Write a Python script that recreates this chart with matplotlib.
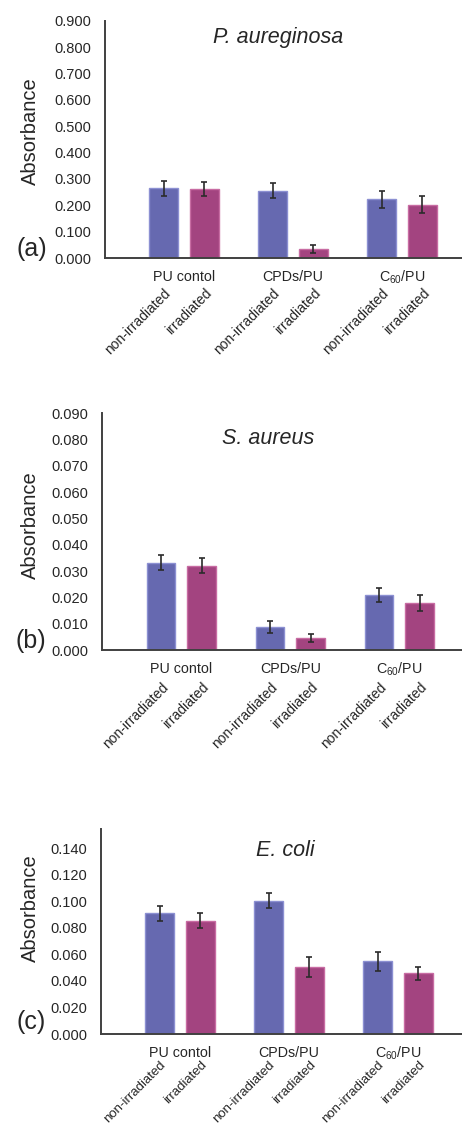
# Absorbancia de biopelícula: tres paneles (a), (b), (c)
import matplotlib
matplotlib.use('Agg')
import matplotlib.pyplot as plt
import matplotlib.transforms as mtransforms
import numpy as np

plt.rcParams['font.family'] = ['Liberation Sans', 'DejaVu Sans']
plt.rcParams['mathtext.default'] = 'regular'

# Datos
grupos = ['PU contol', 'CPDs/PU', 'C$_{60}$/PU']
condiciones = ['non-irradiated', 'irradiated']

pa_non = [0.264, 0.255, 0.222]
pa_irr = [0.263, 0.033, 0.202]
pa_non_err = [0.027, 0.028, 0.032]
pa_irr_err = [0.026, 0.015, 0.032]

sa_non = [0.0332, 0.0087, 0.0209]
sa_irr = [0.0321, 0.0046, 0.0179]
sa_non_err = [0.0028, 0.0023, 0.0027]
sa_irr_err = [0.0027, 0.0014, 0.0030]

ec_non = [0.0910, 0.1006, 0.0547]
ec_irr = [0.0855, 0.0507, 0.0459]
ec_non_err = [0.0054, 0.0057, 0.0073]
ec_irr_err = [0.0054, 0.0074, 0.0048]

W, H = 462, 1130
fig = plt.figure(figsize=(W / 100, H / 100), dpi=100)

azul, azul_borde = '#6669b0', '#8c90d2'
mag, mag_borde = '#a34480', '#c86ca3'
texto = '#262626'
eje = '#404040'

paneles = [
    dict(px=(105, 20.7, 258), non=pa_non, irr=pa_irr, enon=pa_non_err, eirr=pa_irr_err,
         ymax=0.9, paso=0.1, titulo='P. aureginosa', tpos=(278, 37), letra='(a)',
         lpos=(31.5, 249), ylab=131.5, pad=20, fs=10),
    dict(px=(102.3, 413.3, 650), non=sa_non, irr=sa_irr, enon=sa_non_err, eirr=sa_irr_err,
         ymax=0.09, paso=0.01, titulo='S. aureus', tpos=(268, 438), letra='(b)',
         lpos=(31, 641), ylab=525, pad=21.5, fs=10),
    dict(px=(101, 829.3, 1034), non=ec_non, irr=ec_irr, enon=ec_non_err, eirr=ec_irr_err,
         ymax=0.1544, paso=0.02, titulo='E. coli', tpos=(285, 851), letra='(c)',
         lpos=(31, 1022.5), ylab=908, pad=18, fs=9.5),
]

espacio = 109.0  # px entre grupos
ancho = 0.262
desp = 0.186
x = np.arange(len(grupos))

for p in paneles:
    l, t, b = p['px']
    ax = fig.add_axes([l / W, 1 - b / H, (W - l) / W, (b - t) / H])
    ax.bar(x - desp, p['non'], ancho, yerr=p['enon'], color=azul, edgecolor=azul_borde,
           linewidth=1, error_kw=dict(ecolor='#2b2b2b', elinewidth=1.2, capsize=2.5, capthick=1.2))
    ax.bar(x + desp, p['irr'], ancho, yerr=p['eirr'], color=mag, edgecolor=mag_borde,
           linewidth=1, error_kw=dict(ecolor='#2b2b2b', elinewidth=1.2, capsize=2.5, capthick=1.2))

    izq = -0.725
    ax.set_xlim(izq, izq + (W - l) / espacio)
    ax.set_ylim(0, p['ymax'])
    ticks = np.arange(0, p['ymax'] + 1e-9, p['paso'])
    ax.set_yticks(ticks)
    ax.set_yticklabels([f'{v:.3f}' for v in ticks])

    pos = np.concatenate([[xi - desp, xi + desp] for xi in x])
    ax.set_xticks(pos)
    ax.set_xticklabels(condiciones * len(grupos), rotation=45, ha='right', va='top',
                       rotation_mode='anchor', fontsize=p['fs'], color=texto)
    ax.tick_params(axis='x', length=0, pad=p['pad'])
    ax.tick_params(axis='y', length=0, pad=10, labelsize=10.5, labelcolor=texto)

    for s in ['top', 'right']:
        ax.spines[s].set_visible(False)
    for s in ['left', 'bottom']:
        ax.spines[s].set_color(eje)
        ax.spines[s].set_linewidth(1.4)

    trans = mtransforms.offset_copy(ax.get_xaxis_transform(), fig=fig, y=-19, units='dots')
    for xi, g in zip(x, grupos):
        ax.text(xi, 0, g, transform=trans, ha='center', va='center', fontsize=10.3, color=texto)

    fig.text(p['tpos'][0] / W, 1 - p['tpos'][1] / H, p['titulo'], style='italic',
             fontsize=15.5, ha='center', va='center', color=texto)
    fig.text(p['lpos'][0] / W, 1 - p['lpos'][1] / H, p['letra'], fontsize=18,
             ha='center', va='center', color=texto)
    fig.text(30 / W, 1 - p['ylab'] / H, 'Absorbance', rotation=90, fontsize=14.5,
             ha='center', va='center', color=texto)

fig.savefig('out.png', dpi=100, facecolor='white')
